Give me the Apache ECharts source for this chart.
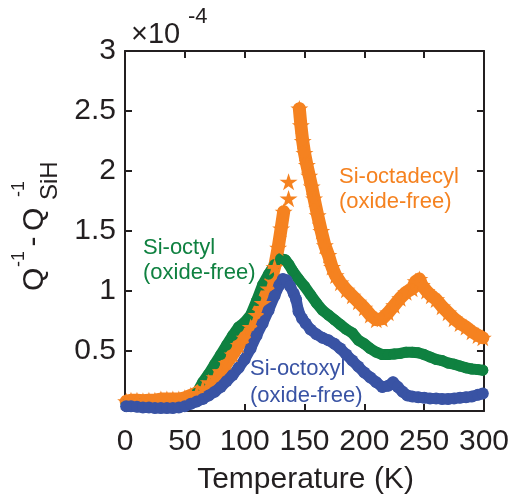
<!DOCTYPE html>
<html>
<head>
<meta charset="utf-8">
<script src="https://cdn.jsdelivr.net/npm/echarts@6/dist/echarts.min.js"></script>
<style>
  html, body { margin: 0; padding: 0; background: #ffffff; }
  #chart { width: 512px; height: 503px; }
</style>
</head>
<body>
<div id="chart"></div>
<script>
// Internal friction above the H-terminated reference, in units of 1e-4, vs temperature (K).
const xTicks = [0, 50, 100, 150, 200, 250, 300];
const yTicks = [0, 0.5, 1, 1.5, 2, 2.5, 3];

// Si-octyl (oxide-free)
const octylT = [1, 5, 10, 15, 20, 25, 30, 35, 40, 45, 50, 55, 60, 65, 70, 75, 80, 85, 90, 95,
  100, 105, 110, 115, 120, 125, 130, 134, 137, 140, 145, 150, 155, 160, 165, 170, 175, 180, 185,
  190, 195, 200, 205, 210, 215, 220, 225, 230, 235, 240, 245, 250, 255, 260, 265, 270, 275, 280,
  285, 290, 295, 299];
const octylQ = [0.06, 0.06, 0.065, 0.06, 0.06, 0.055, 0.055, 0.05, 0.05, 0.045, 0.05, 0.08, 0.15,
  0.24, 0.31, 0.39, 0.47, 0.55, 0.63, 0.70, 0.74, 0.80, 0.92, 1.05, 1.14, 1.22, 1.27, 1.26, 1.22,
  1.17, 1.10, 1.04, 0.97, 0.90, 0.84, 0.80, 0.76, 0.72, 0.68, 0.65, 0.59, 0.56, 0.52, 0.49, 0.47,
  0.47, 0.475, 0.48, 0.49, 0.49, 0.485, 0.47, 0.45, 0.43, 0.42, 0.40, 0.39, 0.375, 0.36, 0.35,
  0.345, 0.34];

// Si-octadecyl (oxide-free); null marks a break in the trace
const octadecylT = [1, 5, 10, 15, 20, 25, 30, 35, 40, 45, 50, 55, 60, 65, 70, 75, 80, 85, 90, 95,
  100, 105, 110, 115, 120, 125, 128, 130.5, 132.6, 134.5, 136.7, 136.7, 136.7, 141, 145.7, 147,
  148.5, 150, 152, 154, 156, 158, 161, 164, 167, 170, 173, 176, 180, 185, 190, 195, 200, 205, 210,
  215, 220, 225, 230, 235, 240, 243, 246, 248, 252, 256, 260, 265, 270, 275, 280, 285, 290, 295, 299];
const octadecylQ = [0.08, 0.09, 0.09, 0.085, 0.09, 0.09, 0.10, 0.10, 0.10, 0.10, 0.11, 0.13, 0.15,
  0.19, 0.24, 0.28, 0.33, 0.40, 0.47, 0.55, 0.61, 0.70, 0.80, 0.90, 1.02, 1.20, 1.36, 1.52, 1.66,
  null, 1.77, null, 1.91, null, 2.52, 2.38, 2.25, 2.15, 2.05, 1.96, 1.87, 1.77, 1.63, 1.50, 1.38,
  1.30, 1.20, 1.13, 1.07, 1.01, 0.96, 0.91, 0.86, 0.80, 0.76, 0.77, 0.82, 0.88, 0.94, 0.99, 1.02,
  1.08, 1.10, 1.05, 1.00, 0.96, 0.93, 0.87, 0.82, 0.77, 0.73, 0.70, 0.66, 0.63, 0.61];

// Si-octoxyl (oxide-free)
const octoxylT = [1, 5, 10, 15, 20, 25, 30, 35, 40, 45, 50, 55, 60, 65, 70, 75, 80, 85, 90, 95,
  100, 105, 110, 115, 120, 125, 129, 132, 135, 138, 141, 143, 145, 148, 151, 155, 160, 165, 170,
  175, 180, 185, 190, 195, 200, 205, 210, 215, 220, 224, 228, 232, 236, 240, 245, 250, 255, 260,
  265, 270, 275, 280, 285, 290, 295, 299];
const octoxylQ = [0.04, 0.04, 0.035, 0.03, 0.03, 0.025, 0.025, 0.025, 0.025, 0.03, 0.04, 0.06, 0.08,
  0.10, 0.13, 0.16, 0.20, 0.25, 0.30, 0.36, 0.43, 0.52, 0.63, 0.73, 0.84, 0.96, 1.05, 1.10, 1.09,
  1.04, 0.98, 0.93, 0.83, 0.77, 0.73, 0.68, 0.64, 0.61, 0.59, 0.56, 0.52, 0.47, 0.42, 0.37, 0.32,
  0.28, 0.24, 0.20, 0.21, 0.24, 0.20, 0.16, 0.13, 0.12, 0.115, 0.11, 0.105, 0.105, 0.10, 0.10,
  0.105, 0.11, 0.115, 0.12, 0.135, 0.145];

const ORANGE = '#F58220';
const GREEN = '#0F8140';
const BLUE = '#3953A4';
const INK = '#231F20';
const FONT = '"Liberation Sans", Arial, Helvetica, sans-serif';
// five-pointed star marker
const STAR = 'path://M50,0 L61.2,34.5 L97.6,34.5 L68.2,55.9 L79.4,90.5 L50,69.1 L20.6,90.5 L31.8,55.9 L2.4,34.5 L38.8,34.5 Z';

function toPairs(xs, ys) {
  return xs.map((x, i) => [x, ys[i] == null ? '-' : ys[i]]);
}

function band(name, xs, ys, color, symbol, symbolSize, width) {
  return {
    name: name,
    type: 'line',
    data: toPairs(xs, ys),
    symbol: symbol,
    symbolSize: symbolSize,
    symbolKeepAspect: true,
    showSymbol: true,
    showAllSymbol: true,
    connectNulls: false,
    clip: true,
    lineStyle: { color: color, width: width, cap: 'round', join: 'round' },
    itemStyle: { color: color, borderWidth: 0 },
    emphasis: { disabled: true },
    animation: false
  };
}

function axisCommon(showLabel) {
  return {
    type: 'value',
    axisLine: { show: true, onZero: false, lineStyle: { color: INK, width: 2 } },
    axisTick: { show: true, inside: true, length: 7, lineStyle: { color: INK, width: 2 } },
    splitLine: { show: false },
    axisLabel: { show: showLabel, color: INK, fontSize: 30, fontFamily: FONT }
  };
}

function txt(text, x, baseline, size, color, opts) {
  opts = opts || {};
  const rot = opts.rotation || 0;
  // place by baseline: the canvas 'middle' line sits about 0.35em above it
  const off = 0.35 * size;
  return {
    type: 'text',
    x: rot ? baseline - off : x,
    y: rot ? x : baseline - off,
    rotation: rot,
    silent: true,
    style: {
      text: text,
      fill: color,
      font: size + 'px ' + FONT,
      textAlign: opts.align || 'left',
      textVerticalAlign: 'middle'
    }
  };
}

const chart = echarts.init(document.getElementById('chart'), null, { renderer: 'canvas' });

chart.setOption({
  backgroundColor: '#ffffff',
  animation: false,
  grid: { left: 125, top: 51, right: 27, bottom: 92, containLabel: false },
  xAxis: [
    Object.assign(axisCommon(true), {
      position: 'bottom', min: xTicks[0], max: xTicks[xTicks.length - 1], interval: 50,
      axisLabel: { show: true, color: INK, fontSize: 30, fontFamily: FONT, margin: 16 }
    }),
    Object.assign(axisCommon(false), {
      position: 'top', min: xTicks[0], max: xTicks[xTicks.length - 1], interval: 50
    })
  ],
  yAxis: [
    Object.assign(axisCommon(true), {
      position: 'left', min: yTicks[0], max: yTicks[yTicks.length - 1], interval: 0.5,
      axisLabel: {
        show: true, color: INK, fontSize: 30, fontFamily: FONT, margin: 9,
        formatter: v => (v === 0 ? '' : String(v))
      }
    }),
    Object.assign(axisCommon(false), {
      position: 'right', min: yTicks[0], max: yTicks[yTicks.length - 1], interval: 0.5
    })
  ],
  series: [
    band('Si-octyl', octylT, octylQ, GREEN, 'circle', 11, 11),
    band('Si-octadecyl', octadecylT, octadecylQ, ORANGE, STAR, 18, 13),
    band('Si-octoxyl', octoxylT, octoxylQ, BLUE, 'circle', 12, 11)
  ],
  graphic: [
    // axis exponent
    txt('\u00d710', 131, 45, 29, INK),
    txt('-4', 188, 25, 22, INK),
    // x axis title
    txt('Temperature (K)', 305.5, 490, 30, INK, { align: 'center' }),
    // y axis title, reading upward: Q^-1 - Q^-1_SiH
    txt('Q', 291, 45, 30, INK, { rotation: Math.PI / 2 }),
    txt('-1', 267, 25, 18, INK, { rotation: Math.PI / 2 }),
    txt('-', 246.4, 44, 30, INK, { rotation: Math.PI / 2 }),
    txt('Q', 231, 45, 30, INK, { rotation: Math.PI / 2 }),
    txt('-1', 197, 25, 18, INK, { rotation: Math.PI / 2 }),
    txt('SiH', 200, 59, 24, INK, { rotation: Math.PI / 2 }),
    // series annotations
    txt('Si-octadecyl', 339, 185, 22, ORANGE),
    txt('(oxide-free)', 339, 210, 22, ORANGE),
    txt('Si-octyl', 143, 256, 22, GREEN),
    txt('(oxide-free)', 143, 280.5, 22, GREEN),
    txt('Si-octoxyl', 250, 377, 22, BLUE),
    txt('(oxide-free)', 250, 403.5, 22, BLUE)
  ]
});
</script>
</body>
</html>
